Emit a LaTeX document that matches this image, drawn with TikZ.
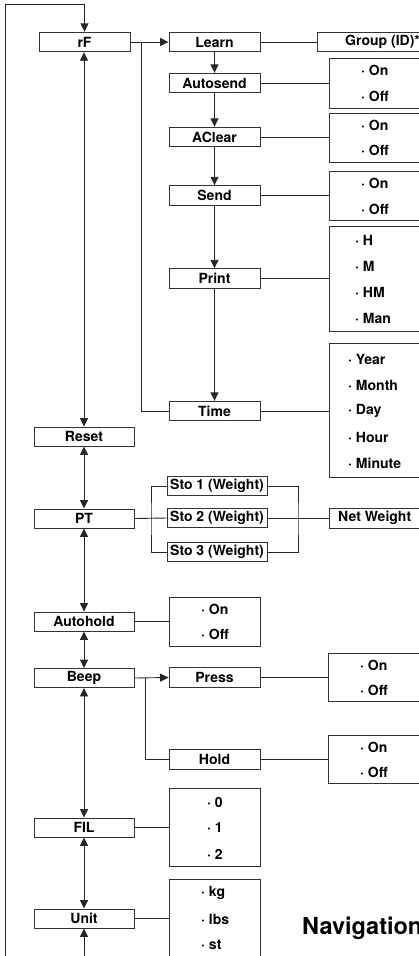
\documentclass[tikz,border=0pt]{standalone}
\usepackage{fontspec}
\setmainfont{TeX Gyre Heros}
\usetikzlibrary{arrows.meta}
\begin{document}
\begin{tikzpicture}[x=1pt,y=-1pt,
  every node/.style={font=\fontsize{14}{16}\selectfont\bfseries, inner sep=0pt},
  ln/.style={line width=0.9pt, draw=black!85},
  arr/.style={ln, -{Triangle[length=8.5pt,width=8pt]}},
  darr/.style={ln, {Triangle[length=8.5pt,width=8pt]}-{Triangle[length=8.5pt,width=8pt]}},
  mbox/.style={draw=black!80, line width=0.9pt, minimum width=100pt, minimum height=19pt},
  sbox/.style={draw=black!80, line width=0.9pt, minimum width=91pt, minimum height=19.5pt},
  obox/.style={draw=black!80, line width=0.9pt, anchor=north west},
  item/.style={anchor=west}
]
\useasboundingbox (0,0) rectangle (418,956);
% main column
\node[sbox] (rf) at (84.5,42) {rF};
\node[mbox] (reset) at (84,436.5) {Reset};
\node[mbox] (pt) at (84,518.5) {PT};
\node[mbox] (autohold) at (84,621.5) {Autohold};
\node[mbox] (beep) at (84,678) {Beep};
\node[mbox] (fil) at (84,827.5) {FIL};
\node[mbox] (unit) at (84,918.5) {Unit};
% second column
\node[sbox] (learn) at (214.5,42) {Learn};
\node[sbox] (autosend) at (214.5,83) {Autosend};
\node[sbox] (aclear) at (214.5,137) {AClear};
\node[sbox] (send) at (214.5,195.5) {Send};
\node[sbox] (print) at (214.5,278.5) {Print};
\node[sbox] (time) at (214.5,411) {Time};
\node[sbox] (press) at (214.5,677.5) {Press};
\node[sbox] (hold) at (214.5,759.5) {Hold};
% Sto boxes
\node[draw=black!80, line width=0.9pt, minimum width=100pt, minimum height=19.5pt] (sto1) at (217,486) {Sto 1 (Weight)};
\node[draw=black!80, line width=0.9pt, minimum width=100pt, minimum height=19.5pt] (sto2) at (217,518) {Sto 2 (Weight)};
\node[draw=black!80, line width=0.9pt, minimum width=100pt, minimum height=19.5pt] (sto3) at (217,552) {Sto 3 (Weight)};
% option boxes, right column
\node[obox, minimum width=120pt, minimum height=19pt] (group) at (317,32) {};
\node[item] at (345,42) {Group (ID)*};
\node[obox, minimum width=110pt, minimum height=50pt] (o1) at (329,58) {};
\node[item] at (361,70) {· On};
\node[item] at (361,96) {· Off};
\node[obox, minimum width=110pt, minimum height=49pt] (o2) at (329,113) {};
\node[item] at (361,125) {· On};
\node[item] at (361,150) {· Off};
\node[obox, minimum width=110pt, minimum height=49pt] (o3) at (329,171) {};
\node[item] at (361,183) {· On};
\node[item] at (361,209) {· Off};
\node[obox, minimum width=110pt, minimum height=105pt] (o4) at (329,226) {};
\node[item] at (355,240) {· H};
\node[item] at (355,266) {· M};
\node[item] at (355,292) {· HM};
\node[item] at (355,318) {· Man};
\node[obox, minimum width=110pt, minimum height=134pt] (o5) at (329,343) {};
\node[item] at (348,359) {· Year};
\node[item] at (348,385) {· Month};
\node[item] at (348,411) {· Day};
\node[item] at (348,437) {· Hour};
\node[item] at (348,463) {· Minute};
\node[obox, minimum width=110pt, minimum height=20pt] (net) at (329,508) {};
\node[item] at (338,518) {Net Weight};
\node[obox, minimum width=110pt, minimum height=48pt] (o6) at (328,653) {};
\node[item] at (360,665) {· On};
\node[item] at (360,690) {· Off};
\node[obox, minimum width=110pt, minimum height=48pt] (o7) at (328,735) {};
\node[item] at (360,747) {· On};
\node[item] at (360,772) {· Off};
% option boxes, second column
\node[obox, minimum width=91pt, minimum height=49pt] (o8) at (169,597) {};
\node[item] at (201,609) {· On};
\node[item] at (201,634) {· Off};
\node[obox, minimum width=91pt, minimum height=78pt] (o9) at (169,788) {};
\node[item] at (207,802) {· 0};
\node[item] at (207,828) {· 1};
\node[item] at (207,854) {· 2};
\node[obox, minimum width=91pt, minimum height=95pt] (o10) at (169,879) {};
\node[item] at (201,893) {· kg};
\node[item] at (201,919) {· lbs};
\node[item] at (201,945) {· st};
% title
\node[anchor=base west, font=\fontsize{23.5}{26}\selectfont\bfseries] (title) at (302,934) {Navigation};
% coordinates
\coordinate (loopb) at (5,960);
\coordinate (loopt) at (5,4);
\coordinate (unitb) at (84,960);
\coordinate (rb) at (141,42);
\coordinate (bb) at (145,678);
\coordinate (bl) at (151,518);
\coordinate (br) at (298,518);
% connectors
\draw[arr] (loopb) -- (loopt) -| (rf.north);
\draw[darr] (rf.south -| reset.north) -- (reset.north);
\draw[darr] (reset.south) -- (pt.north);
\draw[darr] (pt.south) -- (autohold.north);
\draw[darr] (autohold.south) -- (beep.north);
\draw[darr] (beep.south) -- (fil.north);
\draw[darr] (fil.south) -- (unit.north);
\draw[arr] (unitb) -- (unit.south);
\draw[arr] (rf.east) -- (learn.west);
\draw[ln] (rb) |- (time.west);
\draw[arr] (learn.south) -- (autosend.north);
\draw[arr] (autosend.south) -- (aclear.north);
\draw[arr] (aclear.south) -- (send.north);
\draw[arr] (send.south) -- (print.north);
\draw[arr] (print.south) -- (time.north);
\draw[ln] (learn.east) -- (learn.east -| group.west);
\draw[ln] (autosend.east) -- (autosend.east -| o1.west);
\draw[ln] (aclear.east) -- (aclear.east -| o2.west);
\draw[ln] (send.east) -- (send.east -| o3.west);
\draw[ln] (print.east) -- (print.east -| o4.west);
\draw[ln] (time.east) -- (time.east -| o5.west);
\draw[ln] (pt.east) -- (sto2.west);
\draw[ln] (sto1.west) -| (bl) |- (sto3.west);
\draw[ln] (sto1.east) -| (br) |- (sto3.east);
\draw[ln] (sto2.east) -- (sto2.east -| net.west);
\draw[ln] (autohold.east) -- (autohold.east -| o8.west);
\draw[arr] (beep.east) -- (press.west);
\draw[ln] (bb) |- (hold.west);
\draw[ln] (press.east) -- (press.east -| o6.west);
\draw[ln] (hold.east) -- (hold.east -| o7.west);
\draw[ln] (fil.east) -- (fil.east -| o9.west);
\draw[ln] (unit.east) -- (unit.east -| o10.west);
\end{tikzpicture}
\end{document}
